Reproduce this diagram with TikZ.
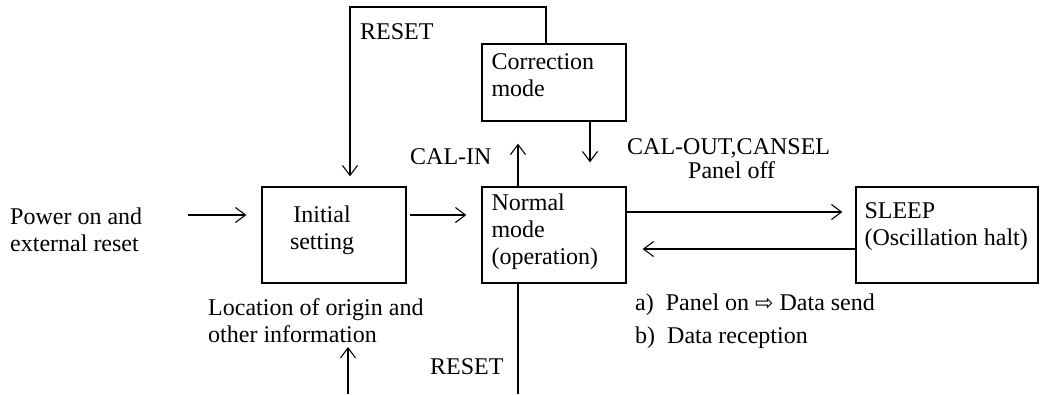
\documentclass[tikz,border=0pt]{standalone}
\usepackage{fontspec}
\setmainfont{Liberation Serif}
\newfontfamily\arrowfont{DejaVu Sans}
\usetikzlibrary{arrows.meta,positioning}
\tikzstyle{mode} = [draw=black, rectangle, line width=1.3pt, inner sep=0pt]
\tikzstyle{lbl} = [inner sep=0pt, align=left, anchor=west]
\tikzstyle{arrow} = [line width=1.1pt, -{Straight Barb[length=10pt,width=15pt]}]
\tikzstyle{wire} = [line width=1.1pt]

\begin{document}
\begin{tikzpicture}[x=1pt, y=-1pt, font=\fontsize{24}{27}\selectfont]
\useasboundingbox (0,0) rectangle (1040,394);
% boxes
\node[mode, minimum width=144pt, minimum height=96pt] (init) at (334,235) {};
\node[mode, minimum width=144pt, minimum height=96pt] (normal) at (554,235) {};
\node[mode, minimum width=144pt, minimum height=77pt] (corr) at (554,82.5) {};
\node[mode, minimum width=182pt, minimum height=96pt] (sleep) at (947,235) {};
% text in the boxes
\node[lbl, anchor=center, align=center] (inittxt) at ([xshift=-12pt,yshift=5pt]init.center) {Initial\\setting};
\node[lbl] (normaltxt) at ([xshift=10pt,yshift=3.5pt]normal.west) {Normal\\mode\\(operation)};
\node[lbl] (corrtxt) at ([xshift=10pt,yshift=7.5pt]corr.west) {Correction\\mode};
\node[lbl] (sleeptxt) at ([xshift=9pt,yshift=8.5pt]sleep.west) {SLEEP\\(Oscillation halt)};
% labels
\node[lbl] (power) at (10,230) {Power on and\\external reset};
\node[lbl] (origin) at (208,320.5) {Location of origin and\\other information};
\node[lbl] (resettop) at (360,32) {RESET};
\node[lbl] (calin) at (410,157) {CAL-IN};
\node[lbl] (calout) at (627,148.5) {CAL-OUT,CANSEL};
\node[lbl] (paneloff) at (688,170) {Panel off};
\node[lbl, font=\fontsize{24}{33}\selectfont] (wake) at (635,321.5)
    {a)\hspace{12pt}Panel on {\arrowfont\fontsize{22}{22}\selectfont ⇨} Data send\\b)\hspace{12pt}Data reception};
\node[lbl] (resetbot) at (430,367) {RESET};
% connectors
\coordinate (pwrin) at (188,215);
\coordinate (loop) at (350,7);
\coordinate (rstend) at (518,394);
\coordinate (rstin) at (348,394);
\draw[arrow] (pwrin) -- ([xshift=-15pt,yshift=20pt]init.west);
\draw[arrow] ([xshift=3pt,yshift=20pt]init.east) -- ([xshift=-15pt,yshift=20pt]normal.west);
\draw[arrow] ([yshift=23pt]normal.east) -- ([xshift=-13pt,yshift=23pt]sleep.west);
\draw[arrow] ([yshift=-14pt]sleep.west) -- ([xshift=16pt,yshift=-14pt]normal.east);
\draw[arrow] ([xshift=-36pt]normal.north) -- ([xshift=-36pt,yshift=-22pt]corr.south);
\draw[arrow] ([xshift=36pt]corr.south) -- ([xshift=36pt,yshift=24pt]normal.north);
\draw[arrow] ([xshift=-8pt]corr.north) |- (loop) -- ([xshift=16pt,yshift=10pt]init.north);
\draw[wire] ([xshift=-36pt]normal.south) -- (rstend);
\draw[arrow] (rstin) -- ++(0,-47);
\end{tikzpicture}
\end{document}
